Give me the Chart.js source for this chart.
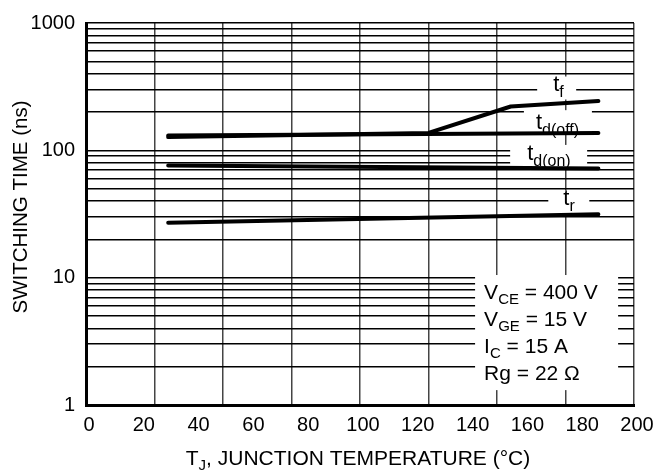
<!DOCTYPE html>
<html>
<head>
<meta charset="utf-8">
<script src="https://cdn.jsdelivr.net/npm/chart.js@4.4.1/dist/chart.umd.min.js"></script>
<style>
html, body { margin: 0; padding: 0; background: #fff; }
</style>
</head>
<body>
<canvas id="switchChart" width="671" height="473"></canvas>
<script>
// switching time vs junction temperature
var tempKnee = [30, 125, 155, 187];
var tFall = [127, 137, 221, 244];
var tempFlat = [30, 187];
var tdOff = [131, 137];
var tdOn = [76, 72];
var tRise = [27, 31.5];

var xTickLabels = [0, 20, 40, 60, 80, 100, 120, 140, 160, 180, 200];
var xGridLines = [0, 25, 50, 75, 100, 125, 150, 175, 200];
var yTickLabels = [1, 10, 100, 1000];

// labels sit at (°C, ns); box = [left, right, top, bottom] px around the anchor
var seriesLabels = [
    {main: 't', sub: 'f', t: 170.5, v: 295, box: [-16, 23, -14, 9]},
    {main: 't', sub: 'd(off)', t: 164.2, v: 146.6, box: [-12, 56, -19, 5]},
    {main: 't', sub: 'd(on)', t: 161, v: 84.1, box: [-17, 60, -15, 8]},
    {main: 't', sub: 'r', t: 174.2, v: 37.5, box: [-15, 26, -14, 9]}
];
var condLines = [
    ['V', 'CE', ' = 400 V'],
    ['V', 'GE', ' = 15 V'],
    ['I', 'C', ' = 15 A'],
    ['Rg', '', ' = 22 \u03A9']
];
var condBox = [142, 194.2, 10.49, 1.309];
var condText = [145.3, 6.83];

var yGridValues = [];
yTickLabels.slice(0, 3).forEach(function (d) {
    for (var k = 1; k < 10; k++) yGridValues.push(d * k);
});
yGridValues.push(1000);

function pts(xs, ys) {
    return xs.map(function (x, i) { return {x: x, y: ys[i]}; });
}

var FONT = '"Liberation Sans", Arial, Helvetica, sans-serif';
Chart.defaults.font.family = FONT;
Chart.defaults.color = '#000';

function drawSub(ctx, x, y, main, sub, rest, size, subSize, drop) {
    ctx.font = size + 'px ' + FONT;
    ctx.fillText(main, x, y);
    x += ctx.measureText(main).width;
    if (sub) {
        ctx.font = subSize + 'px ' + FONT;
        ctx.fillText(sub, x, y + drop);
        x += ctx.measureText(sub).width;
    }
    if (rest) {
        ctx.font = size + 'px ' + FONT;
        ctx.fillText(rest, x, y);
    }
}

var annotate = {
    id: 'annotate',
    beforeDatasetsDraw: function (chart) {
        var ctx = chart.ctx, xs = chart.scales.x, ys = chart.scales.y;
        ctx.save();
        ctx.fillStyle = '#fff';
        seriesLabels.forEach(function (l) {
            var px = xs.getPixelForValue(l.t), py = ys.getPixelForValue(l.v);
            ctx.fillRect(px + l.box[0], py + l.box[2], l.box[1] - l.box[0], l.box[3] - l.box[2]);
        });
        var x0 = xs.getPixelForValue(condBox[0]), x1 = xs.getPixelForValue(condBox[1]);
        var y0 = ys.getPixelForValue(condBox[2]), y1 = ys.getPixelForValue(condBox[3]);
        ctx.fillRect(x0, y0, x1 - x0, y1 - y0);
        ctx.restore();
    },
    afterDatasetsDraw: function (chart) {
        var ctx = chart.ctx, xs = chart.scales.x, ys = chart.scales.y;
        ctx.save();
        ctx.fillStyle = '#000';
        ctx.textBaseline = 'alphabetic';
        ctx.textAlign = 'left';
        seriesLabels.forEach(function (l) {
            drawSub(ctx, xs.getPixelForValue(l.t), ys.getPixelForValue(l.v), l.main, l.sub, '', 22, 16, 6);
        });
        var cx = xs.getPixelForValue(condText[0]), cy = ys.getPixelForValue(condText[1]);
        condLines.forEach(function (ln, i) {
            drawSub(ctx, cx, cy + i * 27, ln[0], ln[1], ln[2], 21, 15, 5);
        });

        // axis titles
        ctx.font = '21px ' + FONT;
        var w = ctx.measureText('T').width;
        ctx.font = '15px ' + FONT;
        w += ctx.measureText('J').width;
        ctx.font = '21px ' + FONT;
        w += ctx.measureText(', JUNCTION TEMPERATURE (\u00B0C)').width;
        drawSub(ctx, 358 - w / 2, 465, 'T', 'J', ', JUNCTION TEMPERATURE (\u00B0C)', 21, 15, 5);

        ctx.translate(21, 207);
        ctx.rotate(-Math.PI / 2);
        ctx.textAlign = 'center';
        ctx.textBaseline = 'middle';
        ctx.font = '20.5px ' + FONT;
        ctx.fillText('SWITCHING TIME (ns)', 0, 0);
        ctx.restore();
    }
};

var lineStyle = {
    borderColor: '#000',
    borderWidth: 4,
    pointRadius: 0,
    fill: false,
    tension: 0,
    borderCapStyle: 'round',
    borderJoinStyle: 'round'
};

var ctx = document.getElementById('switchChart').getContext('2d');
var switchChart = new Chart(ctx, {
    type: 'line',
    data: {
        datasets: [
            Object.assign({label: 'tf', data: pts(tempKnee, tFall)}, lineStyle),
            Object.assign({label: 'td(off)', data: pts(tempFlat, tdOff)}, lineStyle),
            Object.assign({label: 'td(on)', data: pts(tempFlat, tdOn)}, lineStyle),
            Object.assign({label: 'tr', data: pts(tempFlat, tRise)}, lineStyle)
        ]
    },
    options: {
        responsive: false,
        animation: false,
        devicePixelRatio: 1,
        layout: {padding: {top: 20, right: 37, left: 0, bottom: 0}},
        plugins: {legend: {display: false}, tooltip: {enabled: false}},
        scales: {
            x: {
                type: 'linear', position: 'bottom', min: 0, max: 200,
                afterBuildTicks: function (s) { s.ticks = xTickLabels.map(function (v) { return {value: v}; }); },
                afterFit: function (s) { s.height = 68; },
                grid: {display: true, color: 'rgba(0,0,0,0)', drawTicks: false},
                border: {display: true, color: '#000', width: 3},
                ticks: {padding: 8, labelOffset: 3, font: {size: 20}, color: '#000', maxRotation: 0, autoSkip: false}
            },
            xGrid: {
                type: 'linear', position: 'bottom', min: 0, max: 200,
                afterBuildTicks: function (s) { s.ticks = xGridLines.map(function (v) { return {value: v}; }); },
                afterFit: function (s) { s.height = 0; },
                grid: {color: '#444', lineWidth: 1.5, drawTicks: false},
                border: {display: false},
                ticks: {display: false}
            },
            y: {
                type: 'logarithmic', min: 1, max: 1000,
                afterBuildTicks: function (s) { s.ticks = yGridValues.map(function (v) { return {value: v}; }); },
                afterFit: function (s) { s.width = 86; },
                grid: {color: '#000', lineWidth: 1.5, drawTicks: false},
                border: {display: true, color: '#000', width: 3},
                ticks: {
                    padding: 11, font: {size: 20}, color: '#000', autoSkip: false,
                    callback: function (v) { return yTickLabels.indexOf(v) >= 0 ? String(v) : ''; }
                }
            }
        }
    },
    plugins: [annotate]
});
</script>
</body>
</html>
